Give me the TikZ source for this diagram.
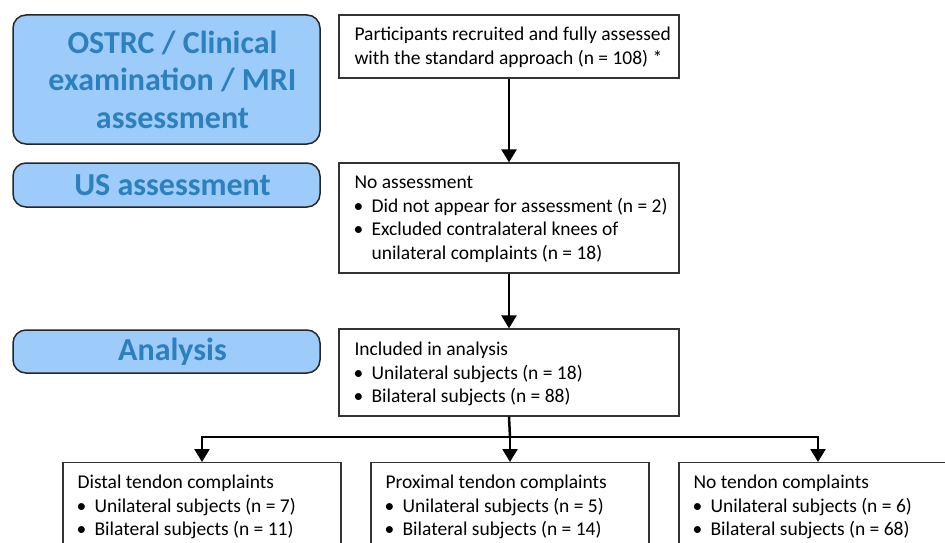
\documentclass[tikz,border=0pt]{standalone}
\usepackage{fontspec}
\setmainfont{Carlito}
\usetikzlibrary{arrows.meta}
\definecolor{phasefill}{RGB}{157,203,250}
\definecolor{phasetext}{RGB}{44,128,190}
\newcommand\bul{\makebox[17pt][l]{\hspace*{-1pt}\textbullet}}
\newcommand\bind{\hspace*{17pt}}
\newcommand\sh{\hspace*{12pt}}
\begin{document}
\begin{tikzpicture}[x=1pt,y=-1pt,
  phase/.style={draw=black!85, line width=1.5pt, fill=phasefill, rounded corners=13pt,
    minimum width=307pt, text=phasetext, font=\fontsize{32}{37.5}\selectfont\bfseries,
    align=center, inner sep=0pt},
  boxframe/.style={draw=black!80, line width=1.3pt, minimum width=340pt, inner sep=0pt},
  botframe/.style={draw=black!80, line width=1.3pt, minimum width=278pt, minimum height=120pt,
    anchor=north, inner sep=0pt},
  boxtext/.style={align=left, inner sep=0pt, font=\fontsize{19.5}{23.5}\selectfont},
  flow/.style={line width=2.5pt, -{Triangle[width=15pt,length=13pt]}},
  link/.style={line width=2.5pt}]
\useasboundingbox (0,0) rectangle (945,543);
% phase labels
\node[phase, minimum height=129pt] (p1) at (166.5,79.5) {\sh OSTRC / Clinical\\\sh examination / MRI\\\sh assessment};
\node[phase, minimum height=44pt] (p2) at (166.5,185) {\sh US assessment};
\node[phase, minimum height=43pt] (p3) at (166.5,351.5) {\sh Analysis};
% main flow boxes
\node[boxframe, minimum height=63pt] (a) at (509,46.5) {};
\node[boxtext, anchor=west] (at) at ([xshift=16pt,yshift=-1pt]a.west) {Participants recruited and fully assessed\\with the standard approach (n = 108) *};
\node[boxframe, minimum height=110pt] (b) at (509,218) {};
\node[boxtext, anchor=west] (bt) at ([xshift=16pt,yshift=-1.5pt]b.west) {No assessment\\\bul Did not appear for assessment (n = 2)\\\bul Excluded contralateral knees of\\\bind unilateral complaints (n = 18)};
\node[boxframe, minimum height=87pt] (c) at (509,372.5) {};
\node[boxtext, anchor=west] (ct) at ([xshift=16pt,yshift=-1.5pt]c.west) {Included in analysis\\\bul Unilateral subjects (n = 18)\\\bul Bilateral subjects (n = 88)};
% bottom boxes
\node[botframe] (d) at (202,462) {};
\node[boxtext, anchor=north west] (dt) at ([xshift=15pt,yshift=-13pt]d.north west) {Distal tendon complaints\\\bul Unilateral subjects (n = 7)\\\bul Bilateral subjects (n = 11)};
\node[botframe] (e) at (510,462) {};
\node[boxtext, anchor=north west] (et) at ([xshift=15pt,yshift=-13pt]e.north west) {Proximal tendon complaints\\\bul Unilateral subjects (n = 5)\\\bul Bilateral subjects (n = 14)};
\node[botframe] (f) at (818,462) {};
\node[boxtext, anchor=north west] (ft) at ([xshift=15pt,yshift=-13pt]f.north west) {No tendon complaints\\\bul Unilateral subjects (n = 6)\\\bul Bilateral subjects (n = 68)};
% connectors
\coordinate (j) at (510,437);
\draw[flow] (a.south) -- (b.north);
\draw[flow] (b.south) -- (c.north);
\draw[link] (c.south) -- (j);
\draw[flow] (j) -| (d.north);
\draw[flow] (j) -- (e.north);
\draw[flow] (j) -| (f.north);
\end{tikzpicture}
\end{document}
